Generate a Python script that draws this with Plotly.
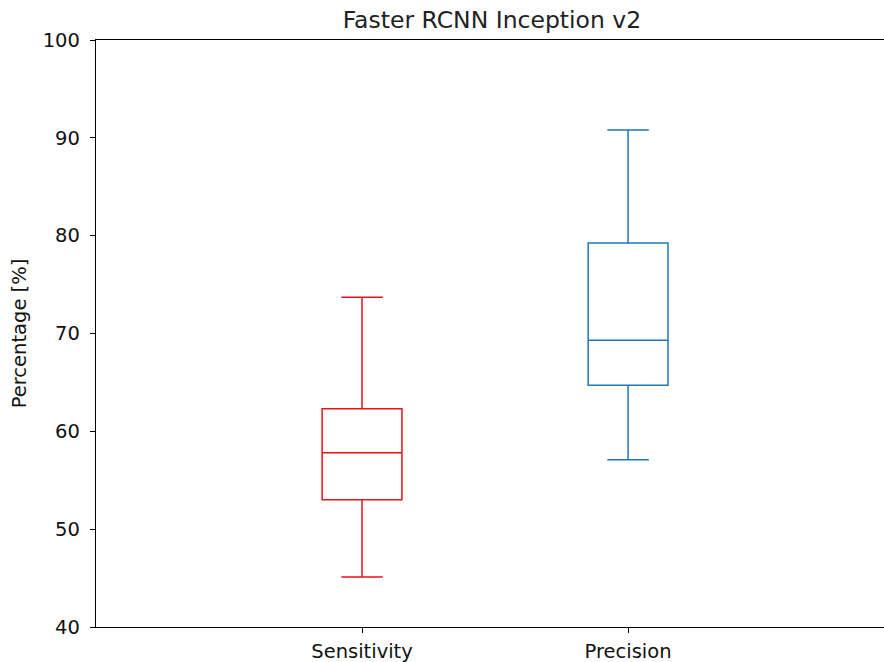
import plotly.graph_objects as go

categories = ["Sensitivity", "Precision"]
positions = [1, 2]
lower_whisker = [45.1, 57.1]
q1_values = [53.0, 64.7]
medians = [57.8, 69.3]
q3_values = [62.3, 79.25]
upper_whisker = [73.7, 90.8]
colors = ["#e8141c", "#1f77b4"]

fig = go.Figure()
for i, name in enumerate(categories):
    fig.add_trace(go.Box(
        x=[positions[i]],
        q1=[q1_values[i]], median=[medians[i]], q3=[q3_values[i]],
        lowerfence=[lower_whisker[i]], upperfence=[upper_whisker[i]],
        name=name, width=0.3, whiskerwidth=0.52,
        line=dict(color=colors[i], width=1.5),
        fillcolor="rgba(0,0,0,0)", boxpoints=False, showlegend=False,
    ))

font = "DejaVu Sans"
tick_size = 19.5
fig.update_layout(
    width=884, height=662,
    margin=dict(l=96, r=0, t=40, b=35, autoexpand=False),
    plot_bgcolor="white", paper_bgcolor="white",
    title=dict(text="Faster RCNN Inception v2", x=0.5565, xanchor="center",
               y=0.97, yanchor="middle", font=dict(family=font, size=23.5, color="#222")),
    font=dict(family=font, size=tick_size, color="#111"),
)
fig.update_xaxes(
    range=[0, 2.962], tickmode="array", tickvals=positions, ticktext=categories,
    showline=True, linecolor="black", linewidth=1.3, mirror=True,
    ticks="outside", ticklen=5, tickcolor="black", showgrid=False, zeroline=False,
    tickfont=dict(family=font, size=tick_size, color="#111"), ticklabelstandoff=1,
    automargin=False,
)
fig.update_yaxes(
    range=[40, 100], tickvals=[40, 50, 60, 70, 80, 90, 100],
    showline=True, linecolor="black", linewidth=1.3, mirror=False,
    ticks="outside", ticklen=5, tickcolor="black", showgrid=False, zeroline=False,
    title=dict(text="Percentage [%]", font=dict(family=font, size=tick_size, color="#111"), standoff=10),
    tickfont=dict(family=font, size=tick_size, color="#111"), ticklabelstandoff=6,
    automargin=False,
)
fig.write_html(
    "out.html",
    config={"displayModeBar": False},
    post_script="document.body.style.margin='0';document.body.style.padding='0';document.body.style.overflow='hidden';",
)
